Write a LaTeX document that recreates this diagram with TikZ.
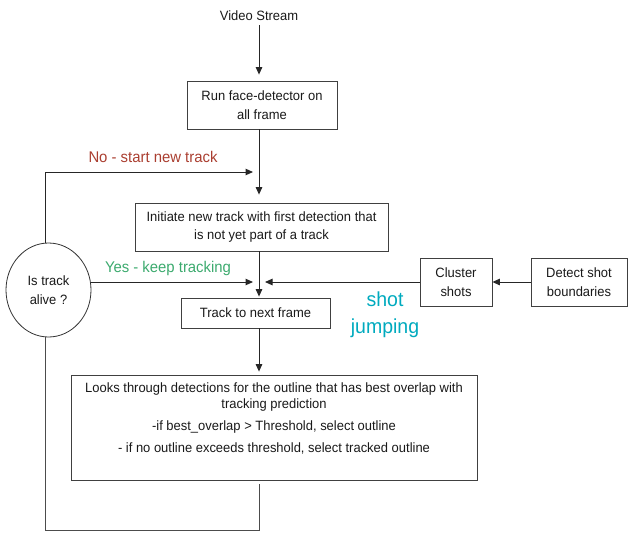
\documentclass[tikz,border=0pt]{standalone}
\usepackage{fontspec}
\setmainfont{Liberation Sans}[FakeStretch=0.96]
\usetikzlibrary{arrows.meta,shapes.geometric}
\definecolor{nored}{RGB}{170,62,48}
\definecolor{yesgreen}{RGB}{60,170,110}
\definecolor{shotcyan}{RGB}{0,170,190}
\begin{document}
\begin{tikzpicture}[x=1pt,y=-1pt,
  every node/.style={font=\fontsize{13.5}{18.5}\selectfont, text=black!90, inner sep=0pt},
  box/.style={draw=black!75, line width=0.8pt, align=center},
  decide/.style={ellipse, draw=black!80, line width=0.8pt, align=center},
  arr/.style={draw=black!85, line width=1pt, -{Triangle[width=6.5pt,length=7.5pt]}},
  ln/.style={draw=black!70, line width=0.9pt},
  lbl/.style={font=\fontsize{15.5}{18}\selectfont}
]
\useasboundingbox (0,0) rectangle (628,533);

\node (video) at (259,16) {Video Stream};
\node[box, minimum width=150pt, minimum height=48pt] (face) at (262,105) {Run face-detector on\\all frame};
\node[box, minimum width=253pt, minimum height=48pt] (init) at (261.5,227) {Initiate new track with first detection that\\is not yet part of a track};
\node[box, minimum width=149pt, minimum height=30pt] (track) at (255.5,313) {Track to next frame};
\node[box, minimum width=406pt, minimum height=105pt,
      font=\fontsize{13.5}{16.5}\selectfont] (looks) at (274,427.5)
  {Looks through detections for the outline that has best overlap with\\tracking prediction\\[5pt]-if best\_overlap > Threshold, select outline\\[6pt]- if no outline exceeds threshold, select tracked outline\\[3.5pt]\mbox{}};
\node[box, minimum width=72pt, minimum height=48pt] (cluster) at (456,282) {Cluster\\shots};
\node[box, minimum width=96pt, minimum height=48pt] (detect) at (579,282) {Detect shot\\boundaries};
\node[decide, minimum width=85pt, minimum height=94pt] (alive) at (48.5,290) {Is track\\alive ?};

\node[lbl, text=nored] (nolbl) at (153,157) {No - start new track};
\node[lbl, text=yesgreen] (yeslbl) at (168,268) {Yes - keep tracking};
\node[font=\fontsize{20.3}{27}\selectfont, text=shotcyan, align=center] (shotlbl) at (385,315) {shot\\jumping};

\coordinate (col) at (45,0);
\coordinate (ja) at (259,172);
\coordinate (jb) at (259,282);
\coordinate (bot) at (259,530);

\draw[arr, shorten >=6pt] (video.south) ++(0,4) -- (video |- face.north);
\draw[arr, shorten >=8pt] (face.south -| ja) -- (init.north -| ja);
\draw[arr, shorten >=1pt] (init.south -| jb) -- (track.north -| jb);
\draw[arr, shorten >=3pt] (track.south -| jb) -- (looks.north -| jb);
\draw[arr] (detect.west) -- (cluster.east);
\draw[arr, shorten >=6pt] (cluster.west) -- (jb);
\draw[arr, shorten >=6pt] (alive.east |- jb) -- (jb);
\draw[arr, shorten >=6pt] (alive.north -| col) -- (col |- ja) -- (ja);
\draw[ln] (looks.south -| bot) ++(0,4) -- (bot) -- (col |- bot) -- (alive.south -| col);
\end{tikzpicture}
\end{document}
